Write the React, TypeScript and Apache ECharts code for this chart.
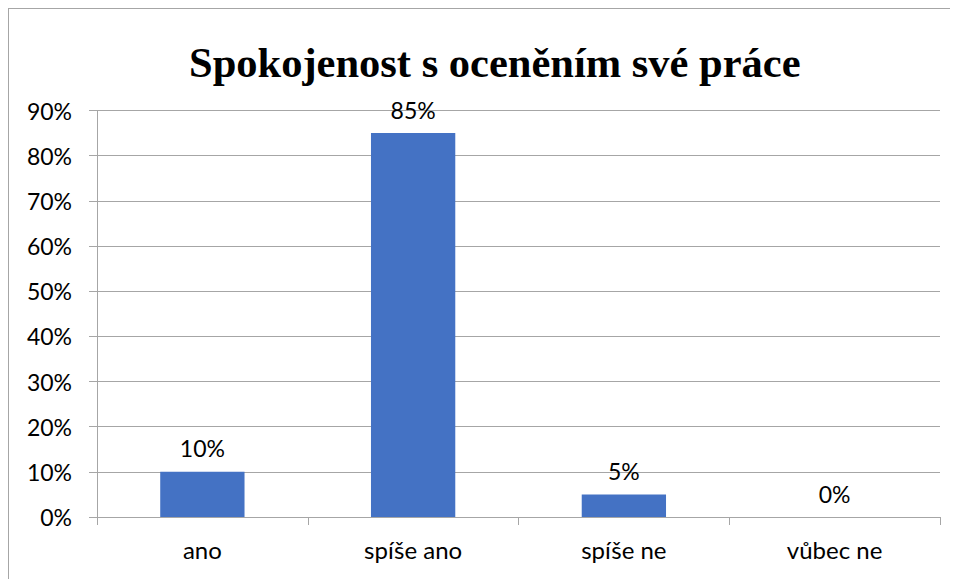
import React, { useEffect, useRef } from "react";
import * as echarts from "echarts";

const categories = ["ano", "spíše ano", "spíše ne", "vůbec ne"];
const values = [10, 85, 5, 0];
const yMax = 90;
const yInterval = 10;
const title = "Spokojenost s oceněním své práce";

const FONT = "Lato, 'Open Sans', sans-serif";

export default function App() {
  const ref = useRef<HTMLDivElement>(null);
  useEffect(() => {
    if (!ref.current) return;
    const chart = echarts.init(ref.current, null, { renderer: "svg" });
    chart.setOption({
      animation: false,
      backgroundColor: "#ffffff",
      title: {
        text: title,
        left: 175,
        top: 27,
        textStyle: {
          fontFamily: "'Liberation Serif', 'Times New Roman', serif",
          fontWeight: "bold",
          fontSize: 42.5,
          color: "#000000",
        },
      },
      grid: { left: 88, right: 18, top: 101.5, bottom: 62 },
      xAxis: {
        type: "category",
        data: categories,
        axisLine: { show: true, lineStyle: { color: "#a6a6a6", width: 1 } },
        axisTick: { show: true, length: 8, alignWithLabel: false, lineStyle: { color: "#a6a6a6" } },
        axisLabel: { color: "#000000", fontSize: 24, fontFamily: FONT, margin: 20 },
      },
      yAxis: {
        type: "value",
        min: 0,
        max: yMax,
        interval: yInterval,
        axisLine: { show: true, lineStyle: { color: "#a6a6a6", width: 1 } },
        axisTick: { show: true, length: 8, lineStyle: { color: "#a6a6a6" } },
        splitLine: { show: true, lineStyle: { color: "#a6a6a6", width: 1 } },
        axisLabel: { color: "#000000", fontSize: 23, fontFamily: FONT, margin: 25, formatter: "{value}%" },
      },
      series: [
        {
          type: "bar",
          data: values,
          barWidth: "40%",
          itemStyle: { color: "#4472c4" },
          label: {
            show: true,
            position: "top",
            distance: 12,
            formatter: "{c}%",
            color: "#000000",
            fontSize: 23,
            fontFamily: FONT,
          },
        },
      ],
    });
    return () => chart.dispose();
  }, []);
  return (
    <div
      style={{
        width: 949,
        height: 570,
        borderTop: "1px solid #a6a6a6",
        borderLeft: "1px solid #a6a6a6",
      }}
    >
      <div ref={ref} style={{ width: 949, height: 570 }} />
    </div>
  );
}
